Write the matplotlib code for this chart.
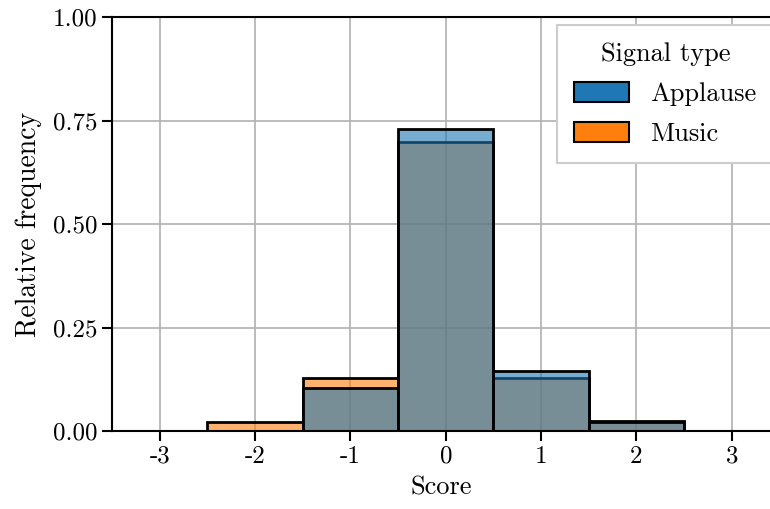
import numpy as np
import matplotlib
matplotlib.use("Agg")
import matplotlib.pyplot as plt
from matplotlib.patches import Patch
from matplotlib.colors import to_rgba

plt.rcParams['font.family'] = 'serif'
plt.rcParams['font.serif'] = ['cmr10']
plt.rcParams['axes.unicode_minus'] = False
plt.rcParams['mathtext.fontset'] = 'cm'

# histogram data (relative frequency per score bin)
scores = [-2, -1, 0, 1, 2]
applause = [0.0, 0.104, 0.729, 0.145, 0.022]
music = [0.022, 0.128, 0.698, 0.128, 0.024]
xticks = [-3, -2, -1, 0, 1, 2, 3]
xticklabels = ['-3', '-2', '-1', '0', '1', '2', '3']
yticks = [0.0, 0.25, 0.5, 0.75, 1.0]
yticklabels = ['0.00', '0.25', '0.50', '0.75', '1.00']

blue = '#1f77b4'
orange = '#ff7f0e'

fig = plt.figure(figsize=(7.7, 5.09), dpi=100)
ax = fig.add_axes([0.1455, 0.153, 0.8545, 0.8136])

# music first, applause drawn over it (fill translucent, edge opaque)
for s, v in zip(scores, music):
    if v > 0:
        ax.bar(s, v, width=1.0, facecolor=to_rgba(orange, 0.6), edgecolor='black', linewidth=2)
for s, v in zip(scores, applause):
    if v > 0:
        ax.bar(s, v, width=1.0, facecolor=to_rgba(blue, 0.6), edgecolor='black', linewidth=2)

ax.set_xlim(-3.5, 3.4)
ax.set_ylim(0, 1.0)
ax.set_xticks(xticks, labels=xticklabels)
ax.set_yticks(yticks, labels=yticklabels)
ax.grid(True, color='#b0b0b0', linewidth=1.2)
ax.set_axisbelow(True)
ax.tick_params(labelsize=18, width=1.5, length=7)
for side in ['left', 'bottom', 'top']:
    ax.spines[side].set_linewidth(1.5)
ax.spines['right'].set_visible(False)

ax.set_xlabel('Score', fontsize=19, labelpad=6)
ax.set_ylabel('Relative frequency', fontsize=20, labelpad=8)

handles = [Patch(facecolor=blue, edgecolor='black', linewidth=1.5),
           Patch(facecolor=orange, edgecolor='black', linewidth=1.5)]
leg = ax.legend(handles, ['Applause', 'Music'], title='Signal type',
                loc='upper left', bbox_to_anchor=(0.676, 0.981), borderaxespad=0,
                fontsize=19, title_fontsize=19, fancybox=False, framealpha=1,
                handlelength=2.1, handleheight=0.8, borderpad=0.65,
                handletextpad=0.8, labelspacing=0.6)
leg.get_frame().set_edgecolor('#cccccc')
leg.get_frame().set_linewidth(1.5)

fig.savefig('out.png', dpi=100)
